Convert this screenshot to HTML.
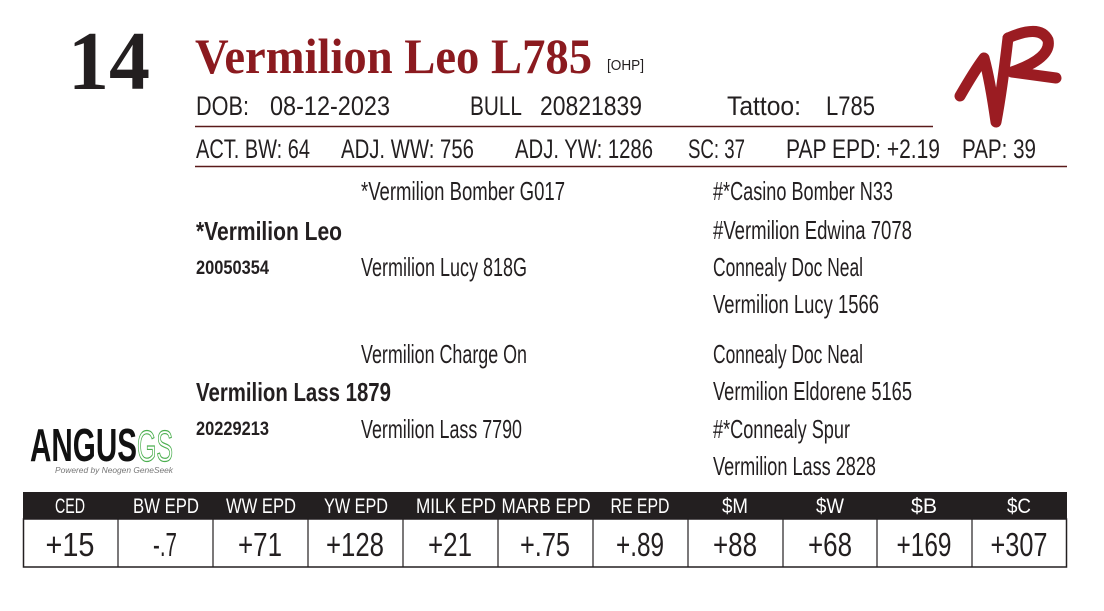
<!DOCTYPE html>
<html><head><meta charset="utf-8"><style>
html,body{margin:0;padding:0;background:#fff;}
svg{display:block;}
.c{font-family:"Liberation Sans Narrow","Liberation Sans",sans-serif;fill:#231f20;}
.s{font-family:"Liberation Serif",serif;font-weight:bold;}
</style></head><body>
<svg width="1104" height="611" viewBox="0 0 1104 611" xmlns="http://www.w3.org/2000/svg">
<rect width="1104" height="611" fill="#fff"/>
<text class="s" x="68" y="89" font-size="84" fill="#231f20" textLength="82" lengthAdjust="spacingAndGlyphs">14</text>
<text class="s" x="195" y="73" font-size="50" fill="#8b1a1f" textLength="397" lengthAdjust="spacingAndGlyphs">Vermilion Leo L785</text>
<text class="c" x="607" y="70" font-size="15" textLength="37" lengthAdjust="spacingAndGlyphs">[OHP]</text>
<g class="c" font-size="27">
<text x="196" y="115" textLength="53" lengthAdjust="spacingAndGlyphs">DOB:</text>
<text x="270" y="115" textLength="120" lengthAdjust="spacingAndGlyphs">08-12-2023</text>
<text x="470" y="115" textLength="52" lengthAdjust="spacingAndGlyphs">BULL</text>
<text x="540" y="115" textLength="102" lengthAdjust="spacingAndGlyphs">20821839</text>
<text x="727" y="115" textLength="74" lengthAdjust="spacingAndGlyphs">Tattoo:</text>
<text x="826" y="115" textLength="49" lengthAdjust="spacingAndGlyphs">L785</text>
<text x="196" y="158" textLength="114" lengthAdjust="spacingAndGlyphs">ACT. BW: 64</text>
<text x="341" y="158" textLength="133" lengthAdjust="spacingAndGlyphs">ADJ. WW: 756</text>
<text x="515" y="158" textLength="138" lengthAdjust="spacingAndGlyphs">ADJ. YW: 1286</text>
<text x="688" y="158" textLength="57" lengthAdjust="spacingAndGlyphs">SC: 37</text>
<text x="786" y="158" textLength="154" lengthAdjust="spacingAndGlyphs">PAP EPD: +2.19</text>
<text x="962" y="158" textLength="74" lengthAdjust="spacingAndGlyphs">PAP: 39</text>
</g>
<line x1="195" y1="126.5" x2="933" y2="126.5" stroke="#5a1a1a" stroke-width="1.5"/>
<line x1="195" y1="166.5" x2="1067" y2="166.5" stroke="#5a1a1a" stroke-width="1.5"/>
<g class="c" font-size="26">
<text x="361" y="200" textLength="204" lengthAdjust="spacingAndGlyphs">*Vermilion Bomber G017</text>
<text x="713" y="200" textLength="180" lengthAdjust="spacingAndGlyphs">#*Casino Bomber N33</text>
<text x="196" y="240" font-weight="bold" textLength="146" lengthAdjust="spacingAndGlyphs">*Vermilion Leo</text>
<text x="713" y="239" textLength="199" lengthAdjust="spacingAndGlyphs">#Vermilion Edwina 7078</text>
<text x="196" y="274" font-size="19" font-weight="bold" textLength="73" lengthAdjust="spacingAndGlyphs">20050354</text>
<text x="361" y="276" textLength="166" lengthAdjust="spacingAndGlyphs">Vermilion Lucy 818G</text>
<text x="713" y="276" textLength="150" lengthAdjust="spacingAndGlyphs">Connealy Doc Neal</text>
<text x="713" y="313" textLength="166" lengthAdjust="spacingAndGlyphs">Vermilion Lucy 1566</text>
<text x="361" y="363" textLength="166" lengthAdjust="spacingAndGlyphs">Vermilion Charge On</text>
<text x="713" y="363" textLength="150" lengthAdjust="spacingAndGlyphs">Connealy Doc Neal</text>
<text x="196" y="401" font-weight="bold" textLength="195" lengthAdjust="spacingAndGlyphs">Vermilion Lass 1879</text>
<text x="713" y="400" textLength="199" lengthAdjust="spacingAndGlyphs">Vermilion Eldorene 5165</text>
<text x="196" y="435" font-size="19" font-weight="bold" textLength="73" lengthAdjust="spacingAndGlyphs">20229213</text>
<text x="361" y="438" textLength="161" lengthAdjust="spacingAndGlyphs">Vermilion Lass 7790</text>
<text x="713" y="438" textLength="137" lengthAdjust="spacingAndGlyphs">#*Connealy Spur</text>
<text x="713" y="475" textLength="163" lengthAdjust="spacingAndGlyphs">Vermilion Lass 2828</text>
</g>
<text x="30" y="461" font-family="Liberation Sans,sans-serif" font-weight="bold" font-size="46" fill="#111" textLength="107" lengthAdjust="spacingAndGlyphs">ANGUS</text>
<text x="137" y="461" font-family="Liberation Sans Narrow,Liberation Sans,sans-serif" font-size="44" fill="none" stroke="#4caf50" stroke-width="1.2" textLength="36" lengthAdjust="spacingAndGlyphs">GS</text>
<text x="55" y="473" font-family="Liberation Sans,sans-serif" font-style="italic" font-size="8" fill="#777" textLength="118" lengthAdjust="spacingAndGlyphs">Powered by Neogen GeneSeek</text>
<g fill="none" stroke="#9b1c22" stroke-width="11" stroke-linecap="round" stroke-linejoin="round">
<path d="M960 96 Q975 70 984 58 Q990 80 996 122 Q1002 90 1008 38"/>
<path d="M1008 38 Q1040 24 1048 40 Q1052 58 1012 72 L1056 78"/>
</g>
<rect x="23" y="492" width="1044" height="27" fill="#231f20"/>
<rect x="23.5" y="519" width="1043" height="48" fill="none" stroke="#231f20" stroke-width="1.5"/>
<g stroke="#231f20" stroke-width="1.2">
<line x1="118" y1="519" x2="118" y2="567"/><line x1="213" y1="519" x2="213" y2="567"/>
<line x1="308" y1="519" x2="308" y2="567"/><line x1="403" y1="519" x2="403" y2="567"/>
<line x1="498" y1="519" x2="498" y2="567"/><line x1="593" y1="519" x2="593" y2="567"/>
<line x1="688" y1="519" x2="688" y2="567"/><line x1="783" y1="519" x2="783" y2="567"/>
<line x1="877" y1="519" x2="877" y2="567"/><line x1="972" y1="519" x2="972" y2="567"/>
</g>
<g font-family="Liberation Sans Narrow,Liberation Sans,sans-serif" font-size="21" fill="#fff" text-anchor="middle">
<text x="70" y="513" textLength="30" lengthAdjust="spacingAndGlyphs">CED</text>
<text x="166" y="513" textLength="66" lengthAdjust="spacingAndGlyphs">BW EPD</text>
<text x="261" y="513" textLength="70" lengthAdjust="spacingAndGlyphs">WW EPD</text>
<text x="356" y="513" textLength="64" lengthAdjust="spacingAndGlyphs">YW EPD</text>
<text x="456" y="513" textLength="80" lengthAdjust="spacingAndGlyphs">MILK EPD</text>
<text x="546" y="513" textLength="89" lengthAdjust="spacingAndGlyphs">MARB EPD</text>
<text x="640" y="513" textLength="59" lengthAdjust="spacingAndGlyphs">RE EPD</text>
<text x="735" y="513" textLength="26" lengthAdjust="spacingAndGlyphs">$M</text>
<text x="830" y="513" textLength="28" lengthAdjust="spacingAndGlyphs">$W</text>
<text x="924" y="513" textLength="26" lengthAdjust="spacingAndGlyphs">$B</text>
<text x="1019" y="513" textLength="24" lengthAdjust="spacingAndGlyphs">$C</text>
</g>
<g class="c" font-size="33" text-anchor="middle">
<text x="70" y="556" textLength="49" lengthAdjust="spacingAndGlyphs">+15</text>
<text x="165" y="556" textLength="24" lengthAdjust="spacingAndGlyphs">-.7</text>
<text x="260" y="556" textLength="44" lengthAdjust="spacingAndGlyphs">+71</text>
<text x="355" y="556" textLength="58" lengthAdjust="spacingAndGlyphs">+128</text>
<text x="450" y="556" textLength="44" lengthAdjust="spacingAndGlyphs">+21</text>
<text x="545" y="556" textLength="50" lengthAdjust="spacingAndGlyphs">+.75</text>
<text x="640" y="556" textLength="48" lengthAdjust="spacingAndGlyphs">+.89</text>
<text x="735" y="556" textLength="44" lengthAdjust="spacingAndGlyphs">+88</text>
<text x="830" y="556" textLength="44" lengthAdjust="spacingAndGlyphs">+68</text>
<text x="924" y="556" textLength="55" lengthAdjust="spacingAndGlyphs">+169</text>
<text x="1019" y="556" textLength="57" lengthAdjust="spacingAndGlyphs">+307</text>
</g>
</svg>
</body></html>
